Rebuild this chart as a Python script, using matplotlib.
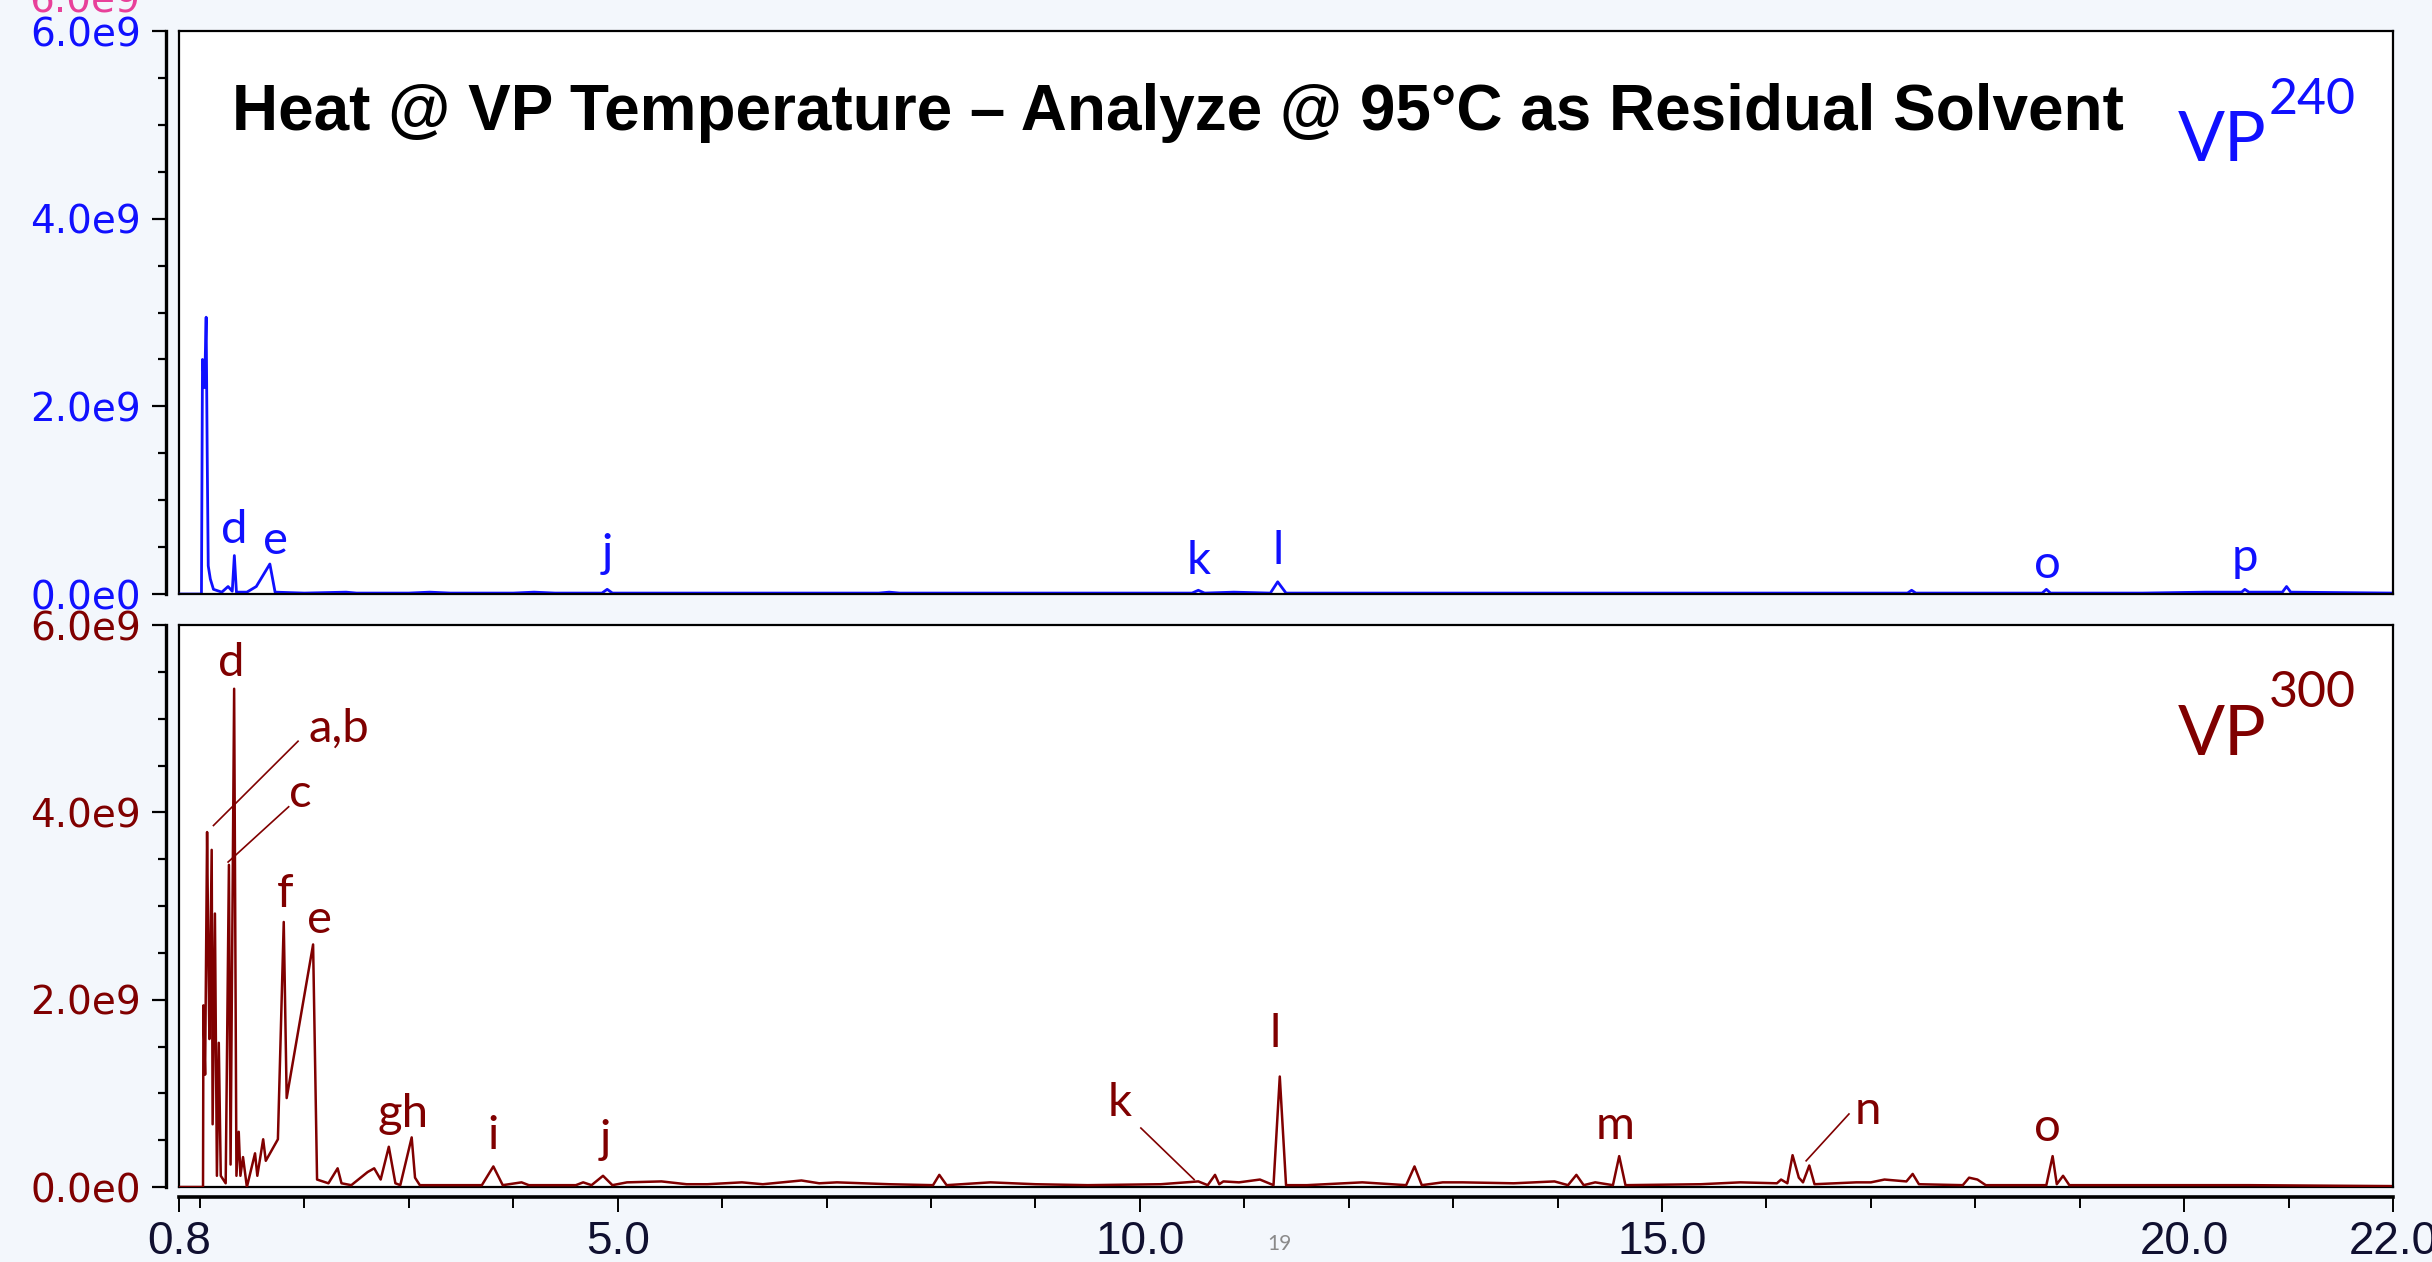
import numpy as np
import matplotlib
matplotlib.use('Agg')
import matplotlib.pyplot as plt
from matplotlib.ticker import FixedLocator, MultipleLocator, FixedFormatter

# retention time (min) and abundance (x1e9)
rt_vp240 = [0.80, 1.015, 1.025, 1.045, 1.060, 1.070, 1.080, 1.100, 1.130, 1.210, 1.270, 1.310,
            1.330, 1.350, 1.450, 1.540, 1.670, 1.720, 2.00, 2.40, 2.50, 3.00, 3.20, 3.40, 4.00,
            4.20, 4.40, 4.85, 4.90, 4.95, 7.50, 7.60, 7.70, 10.50, 10.56, 10.62, 10.90, 11.25,
            11.32, 11.40, 17.35, 17.39, 17.43, 18.64, 18.68, 18.72, 19.60, 20.20, 20.55, 20.58,
            20.62, 20.94, 20.98, 21.02, 22.00]
ab_vp240 = [0.00, 0.00, 2.50, 2.20, 2.95, 1.50, 0.30, 0.16, 0.05, 0.02, 0.08, 0.03,
            0.41, 0.02, 0.02, 0.08, 0.32, 0.02, 0.01, 0.02, 0.01, 0.01, 0.02, 0.01, 0.01,
            0.02, 0.01, 0.01, 0.05, 0.01, 0.01, 0.02, 0.01, 0.01, 0.04, 0.01, 0.02, 0.01,
            0.13, 0.01, 0.01, 0.04, 0.01, 0.01, 0.05, 0.01, 0.01, 0.02, 0.02, 0.05,
            0.02, 0.02, 0.08, 0.02, 0.01]

rt_vp300 = [0.80, 1.030, 1.034, 1.050, 1.069, 1.080, 1.091, 1.113, 1.122, 1.144, 1.163, 1.181,
            1.200, 1.247, 1.278, 1.294, 1.328, 1.350, 1.372, 1.388, 1.413, 1.450, 1.528, 1.550,
            1.606, 1.631, 1.747, 1.803, 1.831, 2.084, 2.122, 2.231, 2.319, 2.356, 2.450, 2.606,
            2.669, 2.731, 2.809, 2.872, 2.919, 3.028, 3.060, 3.106, 3.70, 3.81, 3.90, 4.08,
            4.15, 4.60, 4.67, 4.75, 4.86, 4.95, 5.09, 5.42, 5.66, 5.86, 6.19, 6.39, 6.76,
            6.93, 7.10, 7.60, 8.02, 8.08, 8.15, 8.57, 9.00, 9.50, 10.20, 10.56, 10.65, 10.72,
            10.76, 10.80, 10.95, 11.15, 11.28, 11.34, 11.40, 11.60, 12.13, 12.55, 12.63, 12.70,
            12.90, 13.09, 13.58, 13.97, 14.10, 14.18, 14.25, 14.36, 14.53, 14.59, 14.65, 15.37,
            15.75, 16.10, 16.14, 16.20, 16.25, 16.31, 16.35, 16.41, 16.46, 16.86, 17.00, 17.13,
            17.34, 17.40, 17.46, 17.88, 17.94, 18.02, 18.10, 18.68, 18.74, 18.78, 18.84, 18.90,
            19.50, 20.62, 22.00]
ab_vp300 = [0.00, 0.00, 1.94, 1.20, 3.79, 2.60, 1.58, 3.60, 0.67, 2.92, 0.12, 1.54,
            0.12, 0.04, 3.44, 0.24, 5.32, 0.12, 0.59, 0.12, 0.32, 0.00, 0.36, 0.12,
            0.51, 0.28, 0.51, 2.83, 0.95, 2.59, 0.08, 0.04, 0.20, 0.04, 0.02, 0.16,
            0.20, 0.08, 0.43, 0.04, 0.02, 0.53, 0.10, 0.02, 0.02, 0.22, 0.02, 0.05,
            0.02, 0.02, 0.05, 0.02, 0.12, 0.02, 0.05, 0.06, 0.03, 0.03, 0.05, 0.03, 0.07,
            0.04, 0.05, 0.03, 0.02, 0.13, 0.02, 0.05, 0.03, 0.02, 0.03, 0.06, 0.02, 0.13,
            0.03, 0.06, 0.05, 0.08, 0.02, 1.18, 0.02, 0.02, 0.05, 0.02, 0.22, 0.02,
            0.05, 0.05, 0.04, 0.06, 0.02, 0.13, 0.02, 0.05, 0.02, 0.33, 0.02, 0.03,
            0.05, 0.04, 0.08, 0.04, 0.34, 0.10, 0.05, 0.23, 0.03, 0.05, 0.05, 0.08,
            0.06, 0.14, 0.03, 0.02, 0.10, 0.08, 0.02, 0.02, 0.33, 0.03, 0.12, 0.02,
            0.02, 0.02, 0.01]

y_ticks = [0.0, 2.0e9, 4.0e9, 6.0e9]
y_tick_labels = ['0.0e0', '2.0e9', '4.0e9', '6.0e9']
x_ticks = [0.8, 5.0, 10.0, 15.0, 20.0, 22.0]
x_tick_labels = ['0.8', '5.0', '10.0', '15.0', '20.0', '22.0']

# peak letters and where they sit (rt, abundance x1e9)
labels_vp240 = ['d', 'e', 'j', 'k', 'l', 'o', 'p']
label_pos_vp240 = [(1.33, 0.68), (1.72, 0.56), (4.90, 0.43), (10.56, 0.35),
                   (11.32, 0.46), (18.69, 0.31), (20.58, 0.38)]
labels_vp300 = ['d', 'a,b', 'c', 'f', 'e', 'gh', 'i', 'j', 'k', 'l', 'm', 'n', 'o']
label_pos_vp300 = [(1.30, 5.59), (2.33, 4.89), (1.96, 4.20), (1.82, 3.13), (2.15, 2.85),
                   (2.95, 0.78), (3.81, 0.55), (4.88, 0.50), (9.81, 0.90), (11.30, 1.63),
                   (14.55, 0.65), (16.97, 0.81), (18.69, 0.63)]
leaders_vp300 = [((1.94, 4.76), (1.13, 3.86)), ((1.85, 4.06), (1.27, 3.47)),
                 ((10.01, 0.63), (10.52, 0.08)), ((16.79, 0.78), (16.38, 0.28))]

blue = '#1010ff'
red = '#800000'
label_font = ['Lato', 'DejaVu Sans']

fig = plt.figure(figsize=(24.32, 12.62), dpi=100, facecolor='#f3f7fc')
ax_top = fig.add_axes([0.0736, 0.5293, 0.9104, 0.4461])
ax_bot = fig.add_axes([0.0736, 0.0594, 0.9104, 0.4453])


def style_axis(ax, color):
    ax.set_xlim(0.8, 22.0)
    ax.set_ylim(0, 6.0e9)
    for s in ['top', 'right', 'bottom']:
        ax.spines[s].set_linewidth(1.6)
    ax.spines['left'].set_position(('outward', 9.5))
    ax.spines['left'].set_linewidth(2.4)
    # the plot box keeps its own left edge
    ax.plot([0, 0], [0, 1], transform=ax.transAxes, color='black', lw=1.6, clip_on=False)
    ax.yaxis.set_major_locator(FixedLocator(y_ticks))
    ax.yaxis.set_major_formatter(FixedFormatter(y_tick_labels))
    ax.yaxis.set_minor_locator(MultipleLocator(0.5e9))
    ax.tick_params(axis='y', which='major', length=10, width=1.6, pad=8,
                   labelsize=28, labelcolor=color)
    ax.tick_params(axis='y', which='minor', length=6, width=1.6)


style_axis(ax_top, blue)
style_axis(ax_bot, red)

ax_top.tick_params(axis='x', which='both', bottom=False, labelbottom=False)

ax_bot.spines['bottom'].set_position(('outward', 7))
ax_bot.spines['bottom'].set_linewidth(2.6)
ax_bot.plot([0, 1], [0, 0], transform=ax_bot.transAxes, color='black', lw=1.6, clip_on=False)
ax_bot.xaxis.set_major_locator(FixedLocator(x_ticks))
ax_bot.xaxis.set_major_formatter(FixedFormatter(x_tick_labels))
ax_bot.xaxis.set_minor_locator(MultipleLocator(1.0))
ax_bot.tick_params(axis='x', which='major', length=11, width=1.4, pad=6,
                   labelsize=33, labelcolor='#101030')
ax_bot.tick_params(axis='x', which='minor', length=8, width=1.4)
for lab in ax_bot.get_xticklabels():
    lab.set_family(['Liberation Sans Narrow', 'Liberation Sans'])

ax_top.plot(rt_vp240, np.array(ab_vp240) * 1e9, color=blue, lw=2.0)
ax_bot.plot(rt_vp300, np.array(ab_vp300) * 1e9, color=red, lw=1.8)

for txt, (x, y) in zip(labels_vp240, label_pos_vp240):
    ax_top.text(x, y * 1e9, txt, color=blue, fontsize=34, family=label_font,
                ha='center', va='center')
for txt, (x, y) in zip(labels_vp300, label_pos_vp300):
    ax_bot.text(x, y * 1e9, txt, color=red, fontsize=34, family=label_font,
                ha='center', va='center')
for (x0, y0), (x1, y1) in leaders_vp300:
    ax_bot.plot([x0, x1], [y0 * 1e9, y1 * 1e9], color=red, lw=1.2)

# VP sample tags
ax_top.text(19.94, 4.61e9, 'VP', color=blue, fontsize=50, family=label_font, va='baseline')
ax_top.text(20.81, 5.12e9, '240', color=blue, fontsize=36, family=label_font, va='baseline')
ax_bot.text(19.94, 4.61e9, 'VP', color=red, fontsize=50, family=label_font, va='baseline')
ax_bot.text(20.81, 5.12e9, '300', color=red, fontsize=36, family=label_font, va='baseline')

ax_top.text(0.024, 0.855, 'Heat @ VP Temperature \u2013 Analyze @ 95\u00b0C as Residual Solvent',
            transform=ax_top.transAxes, fontsize=46, fontweight='bold',
            family=['Liberation Sans', 'DejaVu Sans'], color='black', va='center')

fig.text(0.0576, 0.999, '6.0e9', color='#e8409a', fontsize=28, ha='right', va='center', zorder=-1)
fig.text(0.526, 0.0143, '19', color='#8a8a8a', fontsize=15, family=label_font,
         ha='center', va='center')

fig.savefig('out.png', dpi=100, facecolor=fig.get_facecolor())
